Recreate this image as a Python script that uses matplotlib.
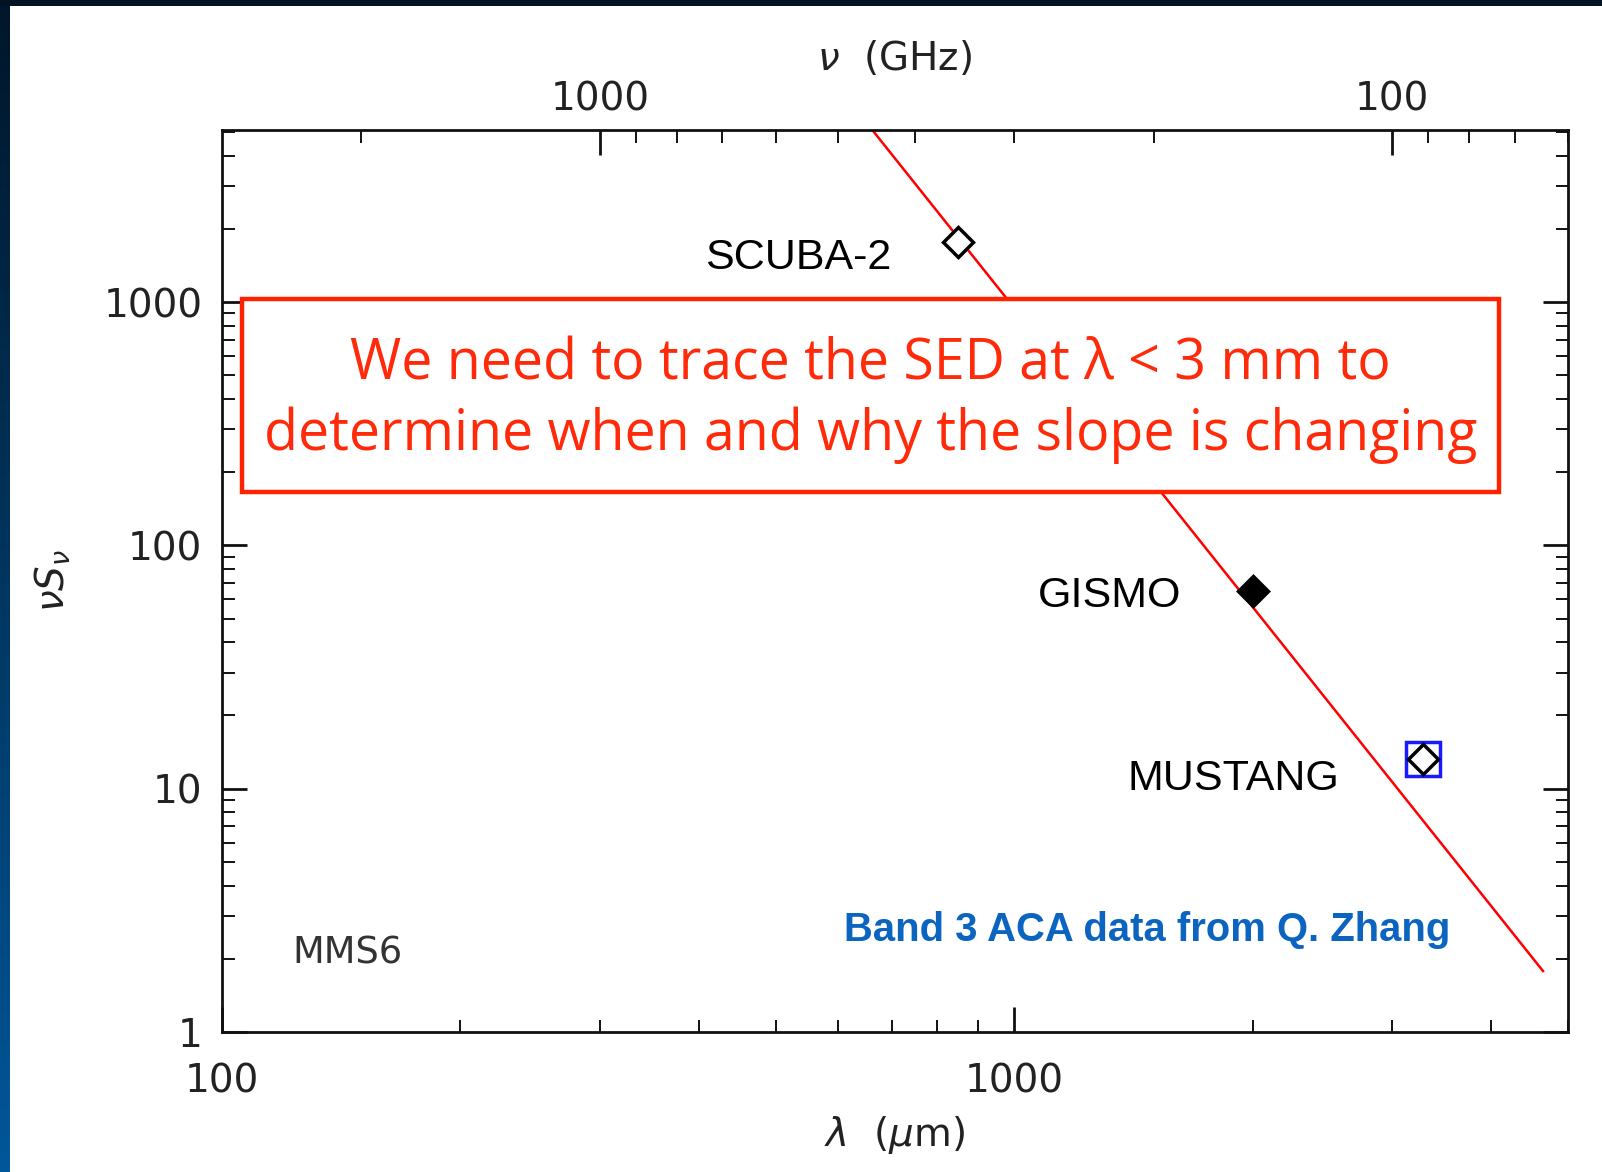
import numpy as np
import matplotlib
matplotlib.use("Agg")
import matplotlib.pyplot as plt
from matplotlib.patches import Rectangle
from matplotlib.colors import LinearSegmentedColormap
from matplotlib.ticker import LogLocator, NullFormatter, FixedLocator, FixedFormatter

# =========================================================
# DATA
# =========================================================

# photometry points: wavelength (micron) and nu*S_nu
point_names = ["SCUBA-2", "GISMO", "MUSTANG"]
point_lam = [850, 2000, 3280]
point_flux = [1770, 65, 13.3]
point_filled = [False, True, False]

# fitted power-law line, two end points
line_lam = [662, 4650]
line_flux = [5100, 1.78]

# ACA band-3 point (blue square)
aca_lam = [3280]
aca_flux = [13.2]

x_ticks = [100, 1000]
y_ticks = [1, 10, 100, 1000]
nu_ticks = [1000, 100]

C_UM_GHZ = 299792.458  # nu[GHz] = C / lambda[micron]

# =========================================================
# FIGURE + SLIDE BACKGROUND
# =========================================================

W, H = 1602, 1172
fig = plt.figure(figsize=(W / 100, H / 100), dpi=100)
fig.patch.set_facecolor("white")

# left border strip with a vertical gradient
strip = fig.add_axes([0, 0, 10 / W, 1])
grad = np.linspace(0, 1, 256).reshape(-1, 1)
cmap = LinearSegmentedColormap.from_list("slide", ["#00579a", "#003660", "#00162a"])
strip.imshow(grad, aspect="auto", cmap=cmap, origin="lower")
strip.axis("off")

top = fig.add_axes([0, 1 - 6 / H, 1, 6 / H])
top.add_patch(Rectangle((0, 0), 1, 1, color="#001426"))
top.axis("off")

# =========================================================
# MAIN AXES
# =========================================================

x0, x1 = 222 / W, 1568 / W
y0, y1 = 1 - 1032 / H, 1 - 130 / H
ax = fig.add_axes([x0, y0, x1 - x0, y1 - y0])
ax.set_xscale("log")
ax.set_yscale("log")
ax.set_xlim(100, 5000)
ax.set_ylim(1, 5100)

for s in ax.spines.values():
    s.set_linewidth(2)
    s.set_color("#111111")

ax.xaxis.set_major_locator(FixedLocator(x_ticks))
ax.xaxis.set_major_formatter(FixedFormatter([str(t) for t in x_ticks]))
ax.xaxis.set_minor_locator(LogLocator(base=10, subs=np.arange(2, 10)))
ax.xaxis.set_minor_formatter(NullFormatter())
ax.yaxis.set_major_locator(FixedLocator(y_ticks))
ax.yaxis.set_major_formatter(FixedFormatter([str(t) for t in y_ticks]))
ax.yaxis.set_minor_locator(LogLocator(base=10, subs=np.arange(2, 10)))
ax.yaxis.set_minor_formatter(NullFormatter())

ax.tick_params(which="major", direction="in", length=18, width=2, color="#111111",
               top=False, right=True, labelsize=28, labelcolor="#222222")
ax.tick_params(which="minor", direction="in", length=9, width=1.4, color="#111111",
               top=False, right=True)
ax.tick_params(axis="x", which="major", pad=22)
ax.tick_params(axis="y", which="major", pad=14)
for lab in ax.get_xticklabels() + ax.get_yticklabels():
    lab.set_family("DejaVu Sans")

ax.set_xlabel(r"$\lambda$  ($\mu$m)", fontsize=28, color="#222222", labelpad=10)
ax.set_ylabel(r"$\nu S_\nu$", fontsize=28, color="#222222", labelpad=22)

# top axis in frequency
secax = ax.secondary_xaxis("top", functions=(lambda l: C_UM_GHZ / l,
                                             lambda n: C_UM_GHZ / n))
secax.xaxis.set_major_locator(FixedLocator(nu_ticks))
secax.xaxis.set_major_formatter(FixedFormatter([str(t) for t in nu_ticks]))
secax.xaxis.set_minor_locator(LogLocator(base=10, subs=np.arange(2, 10)))
secax.xaxis.set_minor_formatter(NullFormatter())
secax.tick_params(which="major", direction="in", length=18, width=2, color="#111111",
                  labelsize=28, labelcolor="#222222", pad=8)
secax.tick_params(which="minor", direction="in", length=9, width=1.4, color="#111111")
secax.set_xlabel(r"$\nu$  (GHz)", fontsize=28, color="#222222", labelpad=8)
secax.spines["top"].set_visible(False)

# =========================================================
# DATA MARKS
# =========================================================

ax.plot(line_lam, line_flux, color="#ff0000", lw=1.8, zorder=2)

for lam, flux, filled in zip(point_lam, point_flux, point_filled):
    ax.plot(lam, flux, marker="D", ms=15, mew=2.5, mec="black",
            mfc="black" if filled else "white", zorder=4)

ax.plot(aca_lam, aca_flux, marker="s", ms=24, mew=2.5, mec="#1a1aff",
        mfc="none", zorder=3)

# point labels
label_pos = {"SCUBA-2": (533, 1525), "GISMO": (1319, 62), "MUSTANG": (2570, 11.0)}
label_ha = {"SCUBA-2": "center", "GISMO": "center", "MUSTANG": "right"}
for name in point_names:
    lx, ly = label_pos[name]
    ax.text(lx, ly, name, fontsize=31, family="Liberation Sans", color="black",
            ha=label_ha[name], va="center", zorder=5)

ax.text(0.052, 0.088, "MMS6", transform=ax.transAxes, fontsize=26.5,
        family="DejaVu Sans", color="#333333", ha="left", va="center")

ax.text(0.687, 0.113, "Band 3 ACA data from Q. Zhang", transform=ax.transAxes,
        fontsize=28.8, family="Liberation Sans", weight="bold", color="#0a64c0",
        ha="center", va="center", zorder=5)

# =========================================================
# RED CALLOUT BOX
# =========================================================

bx0, bx1 = 242 / W, 1499 / W
by0, by1 = 1 - 492 / H, 1 - 299 / H
fig.patches.append(Rectangle((bx0, by0), bx1 - bx0, by1 - by0, transform=fig.transFigure,
                             facecolor="white", edgecolor="#ff2200", lw=3.2, zorder=10))
fig.text((bx0 + bx1) / 2, (by0 + by1) / 2 - 0.004,
         "We need to trace the SED at \u03bb < 3 mm to\ndetermine when and why the slope is changing",
         fontsize=40, family="Open Sans", color="#ff2a0a", ha="center", va="center",
         linespacing=1.28, zorder=11)

fig.savefig("out.png", dpi=100)
